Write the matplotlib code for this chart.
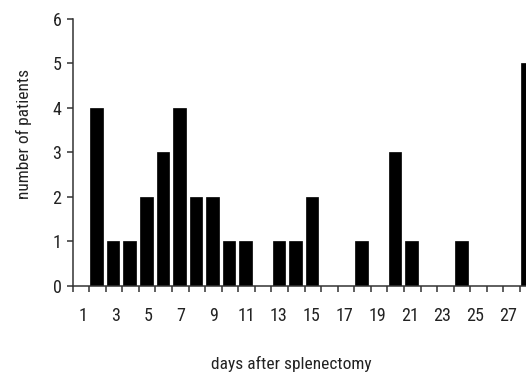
import numpy as np
import matplotlib
matplotlib.use("Agg")
import matplotlib.pyplot as plt

plt.rcParams['font.family'] = ['Roboto Condensed', 'DejaVu Sans']

# counts per slot (slot 0 is empty, slots 1..27 carry bars)
slots = list(range(1, 28))
patients = [4, 1, 1, 2, 3, 4, 2, 2, 1, 1, 0, 1, 1, 2, 0, 0, 1, 0, 3, 1, 0, 0, 1, 0, 0, 0, 5]
day_labels = [1, 3, 5, 7, 9, 11, 13, 15, 17, 19, 21, 23, 25, 27]
y_ticks = [0, 1, 2, 3, 4, 5, 6]

fig = plt.figure(figsize=(5.26, 3.76), dpi=100)
ax = fig.add_axes([0.138, 0.240, 0.862, 0.710])

x = np.array(slots) - 0.05
ax.bar(x, patients, width=0.76, color='black', edgecolor='black', linewidth=0.5)

ax.set_xlim(-0.5, 26.86)
ax.set_ylim(0, 6)

for side in ['top', 'right']:
    ax.spines[side].set_visible(False)
for side in ['left', 'bottom']:
    ax.spines[side].set_color('#333333')
    ax.spines[side].set_linewidth(1.1)

ax.set_yticks(y_ticks)
ax.tick_params(axis='y', length=4, width=1.1, color='#333333', pad=4,
               labelsize=13, labelcolor='#222222')

# tick marks at slot boundaries, labels sit one slot to the left
ax.set_xticks(np.arange(-0.5, 27.5, 1.0), minor=True)
ax.set_xticks((np.array(day_labels) - 1) * 0.987 + 0.1)
ax.set_xticklabels([str(d) for d in day_labels])
ax.tick_params(axis='x', which='minor', length=4, width=1.1, color='#333333')
ax.tick_params(axis='x', which='major', length=0, pad=15,
               labelsize=13, labelcolor='#222222')

ax.set_ylabel('number of patients', fontsize=12.5, color='#222222')
ax.yaxis.set_label_coords(-0.09, 0.569)
fig.text(0.553, 0.019, 'days after splenectomy', fontsize=12.5, color='#222222',
         ha='center', va='baseline')

fig.savefig('out.png', dpi=100)
